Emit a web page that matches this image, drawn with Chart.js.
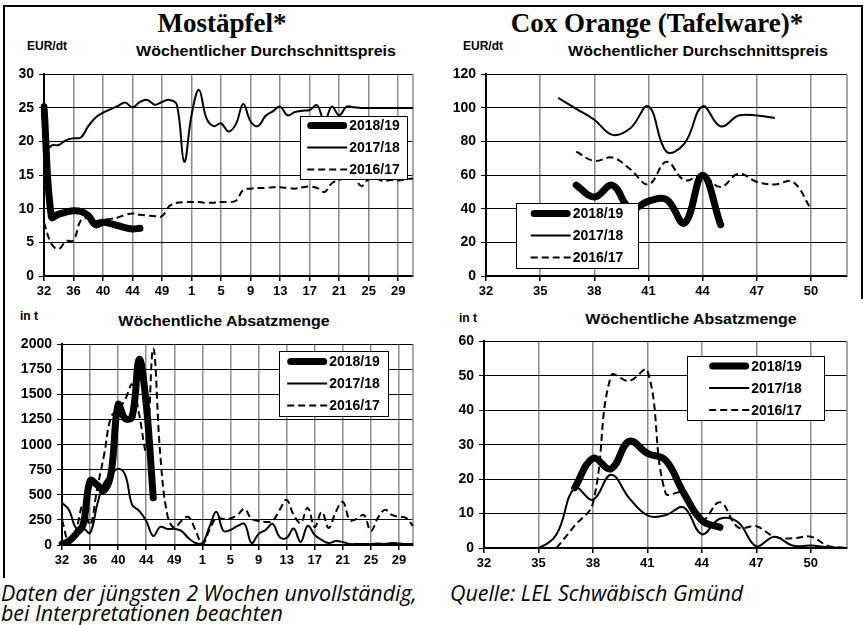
<!DOCTYPE html>
<html>
<head>
<meta charset="utf-8">
<script src="https://cdn.jsdelivr.net/npm/chart.js@4.4.1/dist/chart.umd.min.js"></script>
<style>
body{margin:0;background:#fff;width:864px;height:625px;position:relative;overflow:hidden;font-family:"Liberation Sans",Arial,sans-serif;color:#000}
.t{position:absolute;white-space:nowrap;line-height:1;transform:translate(-50%,-50%)}
.ttl{font-family:"Liberation Serif",serif;font-weight:bold;font-size:27px}
.sub{font-weight:bold;font-size:14px;transform:translate(-50%,-50%) scaleX(1.14)}
.unit{font-weight:bold;font-size:12px}
.note{position:absolute;white-space:nowrap;font-family:"Open Sans",sans-serif;font-style:italic;font-size:21px;line-height:20px;transform:scaleX(1.02);transform-origin:left center}
.box{position:absolute}
.frame{position:absolute;background:#000}
</style>
</head>
<body>
<div class="frame" style="left:3px;top:5px;width:860px;height:2px"></div>
<div class="frame" style="left:3px;top:5px;width:2px;height:573px"></div>
<div class="frame" style="left:861px;top:5px;width:2px;height:294px"></div>

<div class="t ttl" style="left:222px;top:23px">Mostäpfel*</div>
<div class="t ttl" style="left:657px;top:23px">Cox Orange (Tafelware)*</div>
<div class="t unit" style="left:47px;top:46px">EUR/dt</div>
<div class="t unit" style="left:483px;top:46px">EUR/dt</div>
<div class="t sub" style="left:266px;top:51px">Wöchentlicher Durchschnittspreis</div>
<div class="t sub" style="left:698px;top:51px">Wöchentlicher Durchschnittspreis</div>
<div class="t unit" style="left:29px;top:316px">in t</div>
<div class="t unit" style="left:468px;top:318px">in t</div>
<div class="t sub" style="left:224px;top:321px">Wöchentliche Absatzmenge</div>
<div class="t sub" style="left:691px;top:319px">Wöchentliche Absatzmenge</div>
<div class="note" style="left:1px;top:583px">Daten der jüngsten 2 Wochen unvollständig,<br>bei Interpretationen beachten</div>
<div class="note" style="left:450px;top:583px">Quelle: LEL Schwäbisch Gmünd</div>

<div class="box" style="left:0px;top:61px"><canvas id="c1" width="419" height="239"></canvas></div>
<div class="box" style="left:442px;top:61px"><canvas id="c2" width="411" height="239"></canvas></div>
<div class="box" style="left:10px;top:331px"><canvas id="c3" width="409" height="238"></canvas></div>
<div class="box" style="left:448px;top:328px"><canvas id="c4" width="405" height="244"></canvas></div>

<script>
// Kalenderwochen
const weeksLeft = [32,33,34,35,36,37,38,39,40,41,42,43,44,45,46,47,49,50,51,52,
  1,2,3,4,5,6,7,8,9,10,11,12,13,14,15,16,17,18,19,20,21,22,23,24,25,26,27,28,29,30,31];
const weeksRight = [32,33,34,35,36,37,38,39,40,41,42,43,44,45,46,47,48,49,50,51,52];
const seasons = ['2018/19', '2017/18', '2016/17'];

// Mostäpfel Preis EUR/dt
const mostPreis1819 = [25.2,8.8,9.2,9.5,9.7,9.6,9.0,7.6,8.0,7.8,7.5,7.2,7.0,7.1];
const mostPreis1718 = [18.0,19.4,19.5,20.2,20.5,20.6,22.3,23.6,24.3,24.8,25.3,25.8,25.1,25.9,26.2,25.5,25.9,26.2,25.5,17.0,
  24.0,27.7,23.5,22.3,22.7,21.5,22.6,25.6,23.0,22.3,23.8,24.5,25.2,23.9,24.4,24.6,24.7,25.4,23.0,25.2,
  23.9,25.2,25.1,25.0,25.0,25.0,25.0,25.0,25.0,25.0,25.0];
const mostPreis1617 = [8.0,4.8,4.0,5.2,5.3,8.3,8.6,8.2,8.4,8.5,8.7,9.1,9.3,9.1,9.0,8.9,8.9,10.4,10.9,11.0,
  11.0,11.0,10.9,10.9,11.0,11.0,11.2,12.8,13.0,13.1,13.1,13.2,13.2,13.1,13.0,13.2,13.3,13.1,12.5,13.8,
  14.3,14.6,14.6,13.4,14.4,14.5,14.1,14.3,14.2,14.4,14.5];

// Mostäpfel Absatzmenge t
const mostMenge1819 = [10,40,110,200,640,600,545,720,1400,1260,1280,1850,1400,470];
const mostMenge1718 = [420,350,170,170,120,400,620,700,760,700,400,340,240,90,180,160,160,140,70,20,
  20,180,330,140,150,190,210,20,110,150,210,80,70,165,30,190,100,50,20,40,
  30,10,10,10,10,15,10,20,15,10,10];
const mostMenge1617 = [250,30,150,400,200,560,900,1280,1350,1450,1600,1300,950,1960,900,300,170,240,280,150,
  10,150,270,260,265,300,360,260,240,230,240,350,450,300,220,370,180,330,170,330,
  430,250,260,300,140,270,350,300,280,270,190];

// Cox Orange Preis EUR/dt
const coxPreis1819 = [null,null,null,null,null,54,47,54,40,44.5,45.5,31.5,60,30.5];
const coxPreis1718 = [null,null,null,null,106,99.5,93,84,88,101,74,79,101,89,95.5,95.5,94];
const coxPreis1617 = [null,null,null,null,null,74,68.5,70.5,63.5,54.5,68,57,60,53,61,56,54.5,56,40];

// Cox Orange Absatzmenge t
const coxMenge1819 = [null,null,null,null,null,17.5,26,23,31,27.5,25.5,16,8,6];
const coxMenge1718 = [0,0,0,0,4,17.5,14,21.3,14.5,9.5,9.5,11.8,4,8.5,7.5,0.5,3.3,0.7,0.7,0.2,0];
const coxMenge1617 = [null,null,null,null,0,6.5,13,50,48.5,51.5,16,16,8,13.3,6,6.3,3.3,2.8,3.3,0.5,0];

const FONT = '"Liberation Sans", Arial, sans-serif';

const styles = [
  {borderWidth: 7, borderCapStyle: 'round', borderJoinStyle: 'round'},
  {borderWidth: 2},
  {borderWidth: 2, borderDash: [7, 4]}
];

function sets(a, b, c) {
  return [a, b, c].map((d, i) => Object.assign({
    label: seasons[i], data: d, borderColor: '#000', backgroundColor: '#000',
    pointRadius: 0, tension: 0.4, fill: false
  }, styles[i]));
}

// rechter Rand + Legende im Diagramm
const boxLegend = {
  id: 'boxLegend',
  beforeDatasetsDraw(chart) {
    const a = chart.chartArea, c = chart.ctx;
    c.save();
    c.strokeStyle = '#8c8c8c';
    c.lineWidth = 1.5;
    c.beginPath();
    c.moveTo(a.right, a.top);
    c.lineTo(a.right, a.bottom);
    c.stroke();
    c.restore();
  },
  afterDatasetsDraw(chart, args, o) {
    const a = chart.chartArea, c = chart.ctx;
    const x = Math.round(a.left + o.fx * (a.right - a.left));
    const y = Math.round(a.top + o.fy * (a.bottom - a.top));
    c.save();
    c.fillStyle = '#fff';
    c.fillRect(x, y, o.w, o.h);
    c.strokeStyle = '#000';
    c.lineWidth = 1;
    c.strokeRect(x + 0.5, y + 0.5, o.w, o.h);
    c.font = 'bold 14px ' + FONT;
    const tw = c.measureText('2018/19').width;
    const x0 = x + (o.w - (42 + tw)) / 2;
    chart.data.datasets.forEach((d, i) => {
      const ly = y + o.h / 2 + (i - 1) * 22;
      c.strokeStyle = '#000';
      c.lineWidth = d.borderWidth;
      c.setLineDash(d.borderDash || []);
      c.lineCap = d.borderCapStyle || 'butt';
      const r = d.borderCapStyle === 'round' ? d.borderWidth / 2 : 0;
      c.beginPath();
      c.moveTo(x0 + r, ly);
      c.lineTo(x0 + 40 - r, ly);
      c.stroke();
      c.setLineDash([]);
      c.fillStyle = '#000';
      c.textBaseline = 'middle';
      c.fillText(d.label, x0 + 42, ly + 1);
    });
    c.restore();
  }
};

function panel(id, labels, datasets, yMax, yStep, every, yw, leg) {
  return new Chart(document.getElementById(id), {
    type: 'line',
    data: {labels: labels, datasets: datasets},
    options: {
      responsive: false,
      animation: false,
      layout: {padding: {left: 0, top: 10, right: 6, bottom: 0}},
      plugins: {legend: {display: false}, tooltip: {enabled: false}, boxLegend: leg},
      scales: {
        x: {
          type: 'category',
          offset: false,
          grid: {color: '#8c8c8c', lineWidth: 1.5, tickColor: '#000', tickLength: 5},
          border: {color: '#000', width: 2},
          ticks: {
            autoSkip: false, maxRotation: 0, padding: 3, color: '#000',
            font: {family: FONT, size: 13, weight: 'bold'},
            callback: (v, i) => i % every === 0 ? labels[i] : null
          },
          afterFit: s => { s.height = 24; }
        },
        y: {
          min: 0, max: yMax,
          grid: {color: '#000', lineWidth: 1, tickColor: '#000', tickLength: 5},
          border: {color: '#000', width: 2},
          ticks: {
            stepSize: yStep, padding: 5, color: '#000',
            font: {family: FONT, size: 14, weight: 'bold'},
            callback: v => String(v)
          },
          afterFit: s => { s.width = yw; }
        }
      }
    },
    plugins: [boxLegend]
  });
}

panel('c1', weeksLeft, sets(mostPreis1819, mostPreis1718, mostPreis1617), 30, 5, 4, 44,
  {fx: 0.694, fy: 0.206, w: 107, h: 63});
panel('c2', weeksRight, sets(coxPreis1819, coxPreis1718, coxPreis1617), 120, 20, 3, 44,
  {fx: 0.082, fy: 0.639, w: 122, h: 65});
panel('c3', weeksLeft, sets(mostMenge1819, mostMenge1718, mostMenge1617), 2000, 250, 4, 52,
  {fx: 0.619, fy: 0.031, w: 109, h: 65});
panel('c4', weeksRight, sets(coxMenge1819, coxMenge1718, coxMenge1617), 60, 10, 3, 36,
  {fx: 0.559, fy: 0.073, w: 137, h: 64});
</script>
</body>
</html>
